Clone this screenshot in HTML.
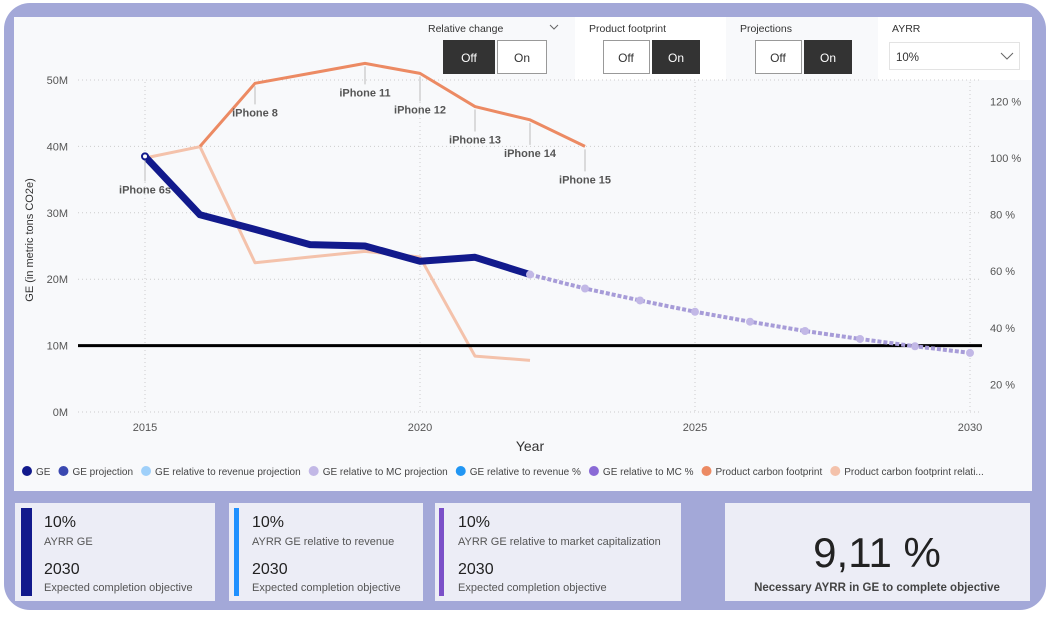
<!DOCTYPE html>
<html><head><meta charset="utf-8"><style>
body{margin:0;width:1051px;height:617px;background:#fff;overflow:hidden;font-family:"Liberation Sans",sans-serif}
svg text{font-family:"Liberation Sans",sans-serif}
</style></head><body>
<svg width="1051" height="617" xmlns="http://www.w3.org/2000/svg" id="root">
<rect x="4" y="3" width="1042" height="607" rx="26" fill="#a3a8d8"/>
<rect x="14" y="17" width="1018" height="474" fill="#f8f9fb"/>
<g id="slicers">
 <rect x="420" y="17" width="152" height="63" fill="#f8f9fb"/>
 <text x="428" y="32" font-size="10.5" fill="#333">Relative change</text>
 <path d="M550 25 l4 4 l4 -4" fill="none" stroke="#666"/>
 <rect x="443" y="40" width="52" height="34" fill="#333"/>
 <text x="469" y="62" font-size="12" fill="#fff" text-anchor="middle">Off</text>
 <rect x="497.5" y="40.5" width="49" height="33" fill="#fff" stroke="#999"/>
 <text x="522" y="62" font-size="12" fill="#333" text-anchor="middle">On</text>
 <rect x="575" y="17" width="151" height="63" fill="#fff"/>
 <text x="589" y="32" font-size="10.5" fill="#333">Product footprint</text>
 <rect x="603.5" y="40.5" width="46" height="33" fill="#fff" stroke="#999"/>
 <text x="626" y="62" font-size="12" fill="#333" text-anchor="middle">Off</text>
 <rect x="652" y="40" width="48" height="34" fill="#333"/>
 <text x="676" y="62" font-size="12" fill="#fff" text-anchor="middle">On</text>
 <text x="740" y="32" font-size="10.5" fill="#333">Projections</text>
 <rect x="755.5" y="40.5" width="46" height="33" fill="#fff" stroke="#999"/>
 <text x="778" y="62" font-size="12" fill="#333" text-anchor="middle">Off</text>
 <rect x="804" y="40" width="48" height="34" fill="#333"/>
 <text x="828" y="62" font-size="12" fill="#fff" text-anchor="middle">On</text>
 <rect x="878" y="17" width="154" height="63" fill="#fff"/>
 <text x="892" y="32" font-size="10.5" fill="#333">AYRR</text>
 <rect x="889.5" y="42.5" width="130" height="27" fill="#fff" stroke="#e3e3e3"/>
 <text x="896" y="61" font-size="11.5" fill="#333">10%</text>
 <path d="M1001 53 l6 6 l6 -6" fill="none" stroke="#666"/>
</g>
<g id="chart"></g>
<g id="cards">
 <rect x="15" y="503" width="200" height="98" fill="#ecedf6"/>
 <rect x="21" y="508" width="11" height="88" fill="#121a8c"/>
 <text x="44" y="527" font-size="16" fill="#222">10%</text>
 <text x="44" y="545" font-size="11" fill="#555">AYRR GE</text>
 <text x="44" y="574" font-size="16" fill="#222">2030</text>
 <text x="44" y="591" font-size="11" fill="#555">Expected completion objective</text>
 <rect x="229" y="503" width="194" height="98" fill="#ecedf6"/>
 <rect x="234" y="508" width="5" height="88" fill="#1e90ff"/>
 <text x="252" y="527" font-size="16" fill="#222">10%</text>
 <text x="252" y="545" font-size="11" fill="#555">AYRR GE relative to revenue</text>
 <text x="252" y="574" font-size="16" fill="#222">2030</text>
 <text x="252" y="591" font-size="11" fill="#555">Expected completion objective</text>
 <rect x="435" y="503" width="246" height="98" fill="#ecedf6"/>
 <rect x="439" y="508" width="5" height="88" fill="#7b50c8"/>
 <text x="458" y="527" font-size="16" fill="#222">10%</text>
 <text x="458" y="545" font-size="11" fill="#555">AYRR GE relative to market capitalization</text>
 <text x="458" y="574" font-size="16" fill="#222">2030</text>
 <text x="458" y="591" font-size="11" fill="#555">Expected completion objective</text>
 <rect x="725" y="503" width="305" height="98" fill="#ecedf6"/>
 <text x="877" y="567" font-size="42" fill="#222" text-anchor="middle">9,11 %</text>
 <text x="877" y="591" font-size="11.5" font-weight="bold" fill="#444" text-anchor="middle">Necessary AYRR in GE to complete objective</text>
</g>
</svg>
<script>
const years=[2015,2016,2017,2018,2019,2020,2021,2022];
const geValues=[38.5,29.7,27.5,25.2,25.0,22.7,23.3,20.7];
const projYears=[2022,2023,2024,2025,2026,2027,2028,2029,2030];
const projValues=[20.7,18.6,16.8,15.1,13.6,12.2,11.0,9.9,8.9];
const pcfYears=[2016,2017,2018,2019,2020,2021,2022,2023];
const pcfValues=[40,49.5,51,52.5,51,46,44,40];
const pcfLabels=["","iPhone 8","","iPhone 11","iPhone 12","iPhone 13","iPhone 14","iPhone 15"];
const relYears=[2015,2016,2017,2018,2019,2020,2021,2022];
const relValues=[100,104,63,65,67,65,30,28.5];
const leftTicks=[0,10,20,30,40,50];
const rightTicks=[20,40,60,80,100,120];
const xTicks=[2015,2020,2025,2030];
const target=10;
const legendItems=[["GE","#121a8c"],["GE projection","#3a48b0"],["GE relative to revenue projection","#9fd0fa"],["GE relative to MC projection","#c2b8e6"],["GE relative to revenue %","#2196f3"],["GE relative to MC %","#8a6ad6"],["Product carbon footprint","#ec8a63"],["Product carbon footprint relati...","#f4c2ab"]];

const X=y=>145+(y-2015)*55;
const YL=v=>412-v*6.64;
const YR=p=>158-(p-100)*2.83;
const g=document.getElementById('chart');
const NS="http://www.w3.org/2000/svg";
function mk(t,a,txt){const e=document.createElementNS(NS,t);for(const k in a)e.setAttribute(k,a[k]);if(txt!==undefined)e.textContent=txt;g.appendChild(e);return e;}
leftTicks.forEach(v=>{
 const l=mk('line',{x1:78,x2:982,y1:YL(v),y2:YL(v),stroke:'#ccc','stroke-dasharray':'1 3'});
 
 
 const t=mk('text',{x:68,y:YL(v)+4,'font-size':11,fill:'#555','text-anchor':'end'},v+'M');
 
 
});
rightTicks.forEach(p=>{
 const t=mk('text',{x:990,y:YR(p)+4,'font-size':11,fill:'#555'},p+' %');
 
 
});
xTicks.forEach(y=>{
 const l=mk('line',{x1:X(y),x2:X(y),y1:82,y2:412,stroke:'#ccc','stroke-dasharray':'1 3'});
 
 
 const t=mk('text',{x:X(y),y:431,'font-size':11,fill:'#555','text-anchor':'middle'},y);
 
 
});
let t=mk('text',{x:530,y:451,'font-size':14,fill:'#333','text-anchor':'middle'},'Year');


t=mk('text',{x:0,y:0,'font-size':11,fill:'#333','text-anchor':'middle',transform:'translate(33,240) rotate(-90)'},'GE (in metric tons CO2e)');


const pts=(xs,vs,f)=>xs.map((x,i)=>X(x)+','+f(vs[i])).join(' ');
let p=mk('polyline',{points:pts(relYears,relValues,YR),fill:'none',stroke:'#f4c2ab','stroke-width':3,'stroke-linejoin':'round'});


p=mk('polyline',{points:pts(pcfYears,pcfValues,YL),fill:'none',stroke:'#ec8a63','stroke-width':3,'stroke-linejoin':'round'});


p=mk('line',{x1:78,x2:982,y1:YL(target),y2:YL(target),stroke:'#000','stroke-width':3});


p=mk('polyline',{points:pts(years,geValues,YL),fill:'none',stroke:'#121a8c','stroke-width':7,'stroke-linejoin':'round'});


p=mk('polyline',{points:pts(projYears,projValues,YL),fill:'none',stroke:'#a79cd8','stroke-width':4,'stroke-dasharray':'4 2'});


projYears.forEach((y,i)=>{
 const c=mk('circle',{cx:X(y),cy:YL(projValues[i]),r:4,fill:'#c2b8e6'});
 
 
});
const lab=(x,y,txt,dy)=>{
 const l=mk('line',{x1:x,x2:x,y1:y+3,y2:y+dy-12,stroke:'#bbb'});
 
 
 const tt=mk('text',{x:x,y:y+dy,'font-size':11,'font-weight':'bold',fill:'#555','text-anchor':'middle'},txt);
 
 
};
lab(X(2015),YL(geValues[0]),'iPhone 6s',37);
const dys=[0,33,0,33,40,37,37,37];
pcfYears.forEach((y,i)=>{if(pcfLabels[i])lab(X(y),YL(pcfValues[i]),pcfLabels[i],dys[i]);});
let c=mk('circle',{cx:X(2015),cy:YL(geValues[0]),r:3,fill:'#fff',stroke:'#121a8c','stroke-width':2});


let lx=22;
legendItems.forEach(([n,col])=>{
 const d=mk('circle',{cx:lx+5,cy:471,r:5,fill:col});
 
 
 const tx=mk('text',{x:lx+14,y:475,'font-size':10,fill:'#444'},n);
 
 
 lx+=14+tx.getComputedTextLength()+8;
});
</script>
</body></html>
